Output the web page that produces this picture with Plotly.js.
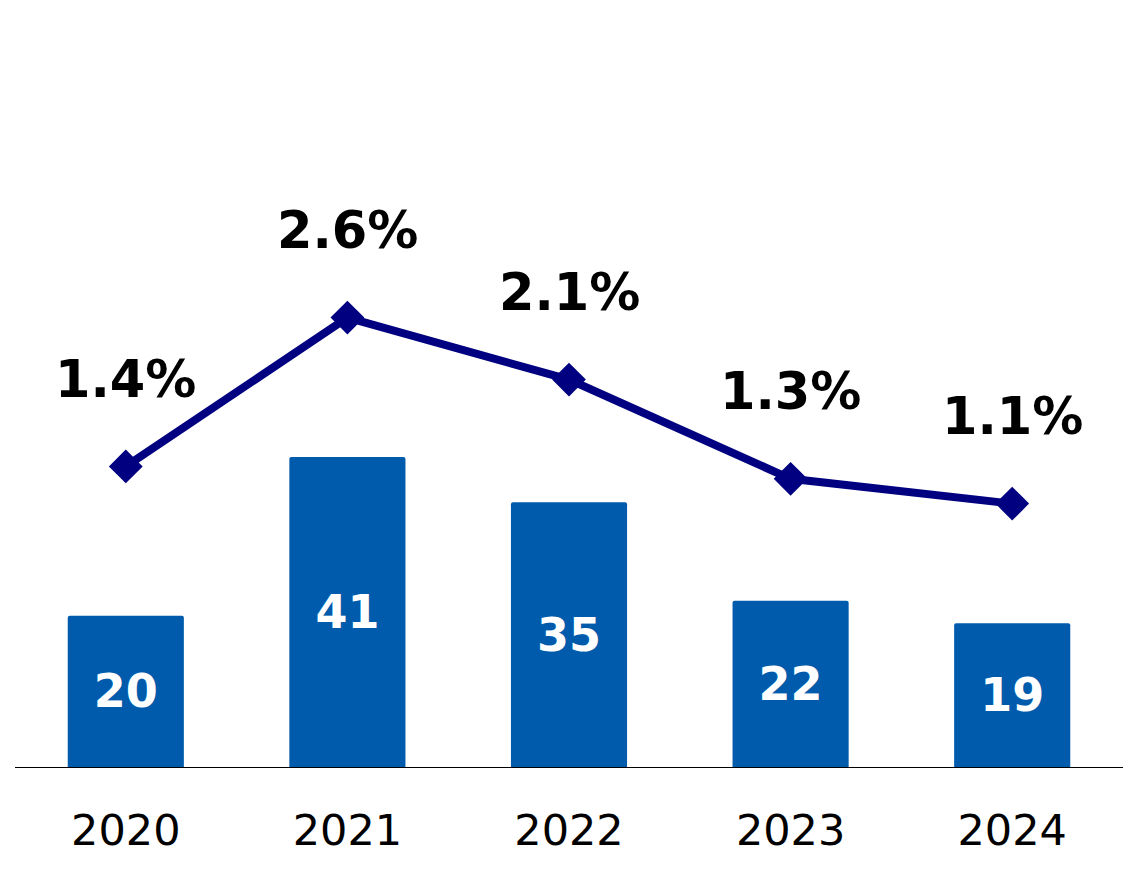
<!DOCTYPE html>
<html>
<head>
<meta charset="utf-8">
<script src="https://cdn.plot.ly/plotly-3.0.1.min.js"></script>
<style>html,body{margin:0;padding:0;background:#fff;}#chart{width:1136px;height:894px;}</style>
</head>
<body>
<div id="chart"></div>
<script>
const years = ["2020", "2021", "2022", "2023", "2024"];
const barValues = [20, 41, 35, 22, 19];
const rateValues = [1.4, 2.6, 2.1, 1.3, 1.1];
const rateLabels = ["1.4%", "2.6%", "2.1%", "1.3%", "1.1%"];

const FONT = "DejaVu Sans, Verdana, sans-serif";

const bars = {
  type: "bar",
  x: years,
  y: barValues,
  text: barValues.map(String),
  textposition: "inside",
  insidetextanchor: "middle",
  textfont: {family: FONT, size: 46, color: "#ffffff", weight: "bold"},
  marker: {color: "#005BAC", cornerradius: 2},
  hoverinfo: "skip",
  cliponaxis: false
};

const line = {
  type: "scatter",
  mode: "lines+markers",
  x: years,
  y: rateValues,
  yaxis: "y2",
  line: {color: "#000080", width: 8},
  marker: {symbol: "diamond", size: 26, color: "#000080"},
  hoverinfo: "skip",
  cliponaxis: false
};

// annotations on a category axis are positioned by category index
const annotations = years.map((yr, i) => ({
  x: i,
  y: rateValues[i],
  xref: "x",
  yref: "y2",
  text: "<b>" + rateLabels[i] + "</b>",
  showarrow: false,
  yanchor: "middle",
  xanchor: "center",
  yshift: 87,
  font: {family: FONT, size: 51, color: "#000000"}
}));

const layout = {
  width: 1136,
  height: 894,
  margin: {l: 15, r: 13, t: 20, b: 127},
  paper_bgcolor: "#ffffff",
  plot_bgcolor: "#ffffff",
  showlegend: false,
  bargap: 0.476,
  xaxis: {
    type: "category",
    categoryorder: "array",
    categoryarray: years,
    range: [-0.5, years.length - 0.5],
    autorange: false,
    showline: true,
    linecolor: "#000000",
    linewidth: 1,
    showgrid: false,
    zeroline: false,
    ticks: "",
    ticklabelstandoff: 25,
    tickfont: {family: FONT, size: 43, color: "#000000"},
    fixedrange: true
  },
  yaxis: {
    range: [0, 98.8],
    autorange: false,
    visible: false,
    showgrid: false,
    zeroline: false,
    fixedrange: true
  },
  yaxis2: {
    range: [-1.024, 5.0],
    autorange: false,
    overlaying: "y",
    side: "right",
    visible: false,
    showgrid: false,
    zeroline: false,
    fixedrange: true
  },
  annotations: annotations
};

Plotly.newPlot("chart", [bars, line], layout, {displayModeBar: false, staticPlot: true});
</script>
</body>
</html>
